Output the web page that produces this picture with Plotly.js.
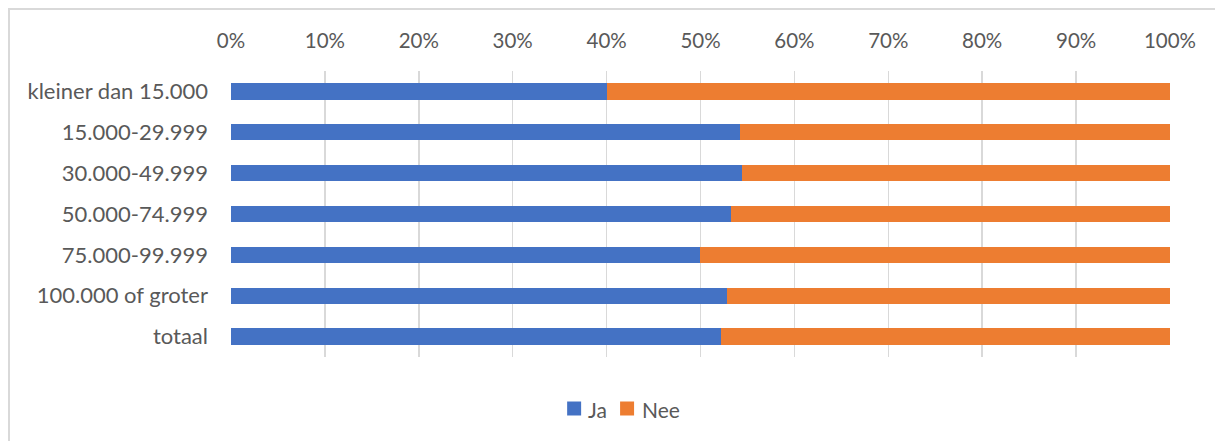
<!DOCTYPE html>
<html>
<head>
<meta charset="utf-8">
<script src="https://cdn.plot.ly/plotly-3.0.1.min.js"></script>
<style>
  html, body { margin: 0; padding: 0; background: #ffffff; }
  #wrap { position: relative; width: 1215px; height: 441px; overflow: hidden; }
  #chart { position: absolute; left: 0; top: 0; width: 1215px; height: 441px; }
  #frame { position: absolute; left: 8px; top: 8px; width: 1300px; height: 500px;
           border-left: 2px solid #d9d9d9; border-top: 2px solid #d9d9d9; pointer-events: none; }
</style>
</head>
<body>
<div id="wrap">
  <div id="chart"></div>
  <div id="frame"></div>
</div>
<script>
const categories = [
  "kleiner dan 15.000",
  "15.000-29.999",
  "30.000-49.999",
  "50.000-74.999",
  "75.000-99.999",
  "100.000 of groter",
  "totaal"
];
const jaValues  = [40.0, 54.2, 54.4, 53.3, 49.9, 52.8, 52.2];
const neeValues = jaValues.map(v => +(100 - v).toFixed(1));
const seriesNames = ["Ja", "Nee"];
const seriesColors = ["#4472C4", "#ED7D31"];
const tickValues = [0, 10, 20, 30, 40, 50, 60, 70, 80, 90, 100];
const tickLabels = tickValues.map(v => v + "%");

const fam = "Lato, 'Open Sans', sans-serif";
const grey = "#595959";

const traces = [
  { type: "bar", orientation: "h", name: seriesNames[0], y: categories, x: jaValues,
    marker: { color: seriesColors[0], line: { width: 0 } } },
  { type: "bar", orientation: "h", name: seriesNames[1], y: categories, x: neeValues,
    marker: { color: seriesColors[1], line: { width: 0 } } }
];

// custom legend (pixel positions converted to paper coordinates)
const plotL = 230.5, plotW = 940, plotT = 71, plotH = 286;
const px = v => (v - plotL) / plotW;
const py = v => (plotT + plotH - v) / plotH;
const legendItems = [
  { sq: 567, txt: 586 },
  { sq: 620, txt: 639.5 }
];
const shapes = [], annotations = [];
legendItems.forEach((it, i) => {
  shapes.push({ type: "rect", xref: "paper", yref: "paper",
    x0: px(it.sq), x1: px(it.sq + 14), y0: py(415.5), y1: py(401.5),
    fillcolor: seriesColors[i], line: { width: 0 } });
  annotations.push({ xref: "paper", yref: "paper", x: px(it.txt), y: py(409),
    xanchor: "left", yanchor: "middle", showarrow: false, text: seriesNames[i],
    font: { family: fam, size: 21, color: grey } });
});

const layout = {
  width: 1215, height: 441,
  margin: { l: plotL, r: 1215 - plotL - plotW, t: plotT, b: 441 - plotT - plotH, pad: 0 },
  paper_bgcolor: "rgba(0,0,0,0)", plot_bgcolor: "rgba(0,0,0,0)",
  barmode: "stack",
  bargap: 0.6,
  font: { family: fam, size: 20, color: grey },
  showlegend: false,
  shapes: shapes,
  annotations: annotations,
  xaxis: {
    side: "top", range: [0, 100], tickvals: tickValues, ticktext: tickLabels,
    showgrid: true, gridcolor: "#d9d9d9", gridwidth: 1.5,
    zeroline: false, showline: false, ticks: "", fixedrange: true,
    ticklabelstandoff: 18,
    tickfont: { family: fam, size: 20.5, color: grey }
  },
  yaxis: {
    autorange: "reversed", type: "category",
    showgrid: false, zeroline: false, showline: false, ticks: "",
    ticklabelstandoff: 22, fixedrange: true,
    tickfont: { family: fam, size: 22, color: grey }
  }
};

Plotly.newPlot("chart", traces, layout, { displayModeBar: false, staticPlot: true });
</script>
</body>
</html>
